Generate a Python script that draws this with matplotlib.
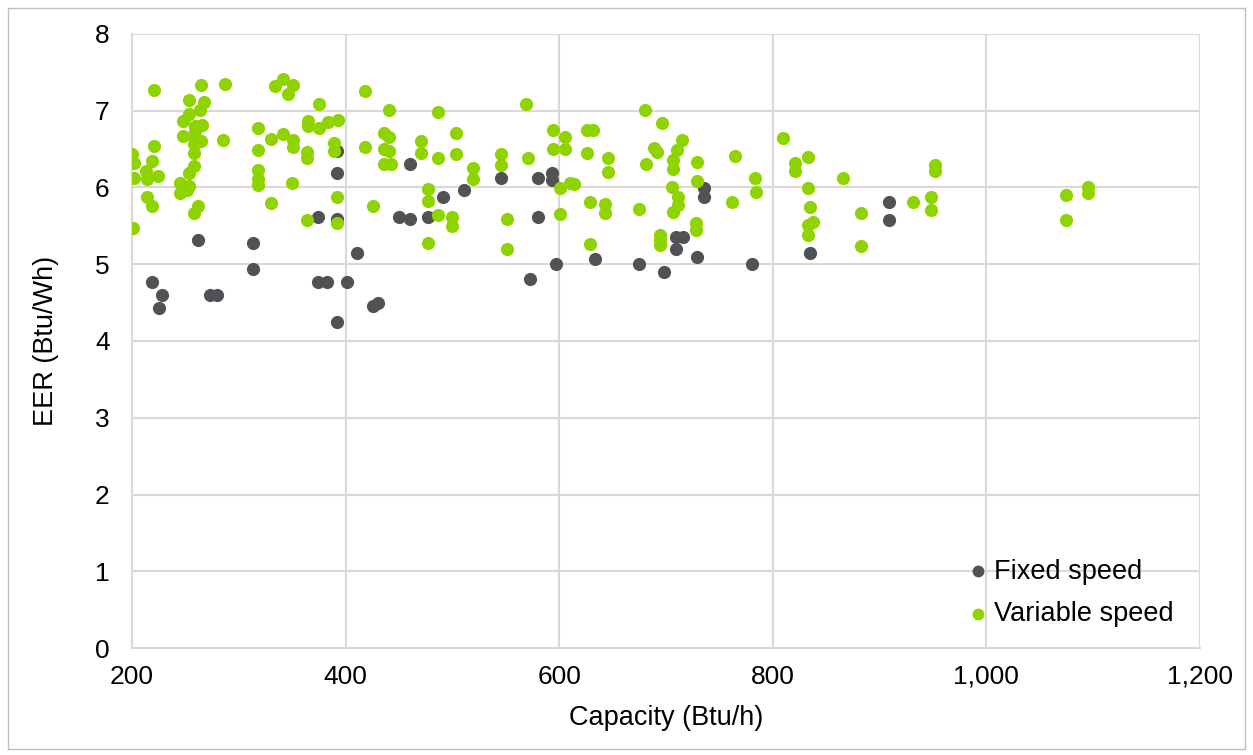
import matplotlib.pyplot as plt
import matplotlib
from matplotlib.patches import Rectangle
from matplotlib.ticker import FuncFormatter

matplotlib.rcParams["font.family"] = ["Liberation Sans", "DejaVu Sans"]

# Fixed speed units: capacity (Btu/h) and EER (Btu/Wh)
fixed_cap = [219, 225, 228, 262, 273, 280, 313, 313, 374, 374, 383, 392, 392, 392,
             392, 401, 411, 426, 430, 450, 460, 460, 477, 491, 511, 546, 573, 580,
             580, 593, 593, 597, 634, 675, 698, 709, 716, 709, 729, 736, 736, 781,
             835, 909, 909]
fixed_eer = [4.77, 4.43, 4.60, 5.31, 4.60, 4.60, 5.28, 4.94, 5.61, 4.77, 4.77, 6.48,
             6.19, 5.59, 4.25, 4.77, 5.15, 4.45, 4.50, 5.61, 6.30, 5.59, 5.61, 5.87,
             5.97, 6.12, 4.81, 6.12, 5.61, 6.19, 6.10, 5.00, 5.07, 5.00, 4.90, 5.35,
             5.35, 5.20, 5.10, 5.99, 5.88, 5.00, 5.14, 5.81, 5.58]

# Variable speed units
var_cap = [201, 200, 202, 202, 213, 214, 214, 219, 219, 221, 221, 224, 245, 245,
           248, 248, 253, 252, 253, 253, 253, 259, 258, 259, 258, 258, 258, 262,
           259, 265, 265, 266, 267, 264, 285, 287, 318, 318, 318, 318, 318, 330,
           330, 334, 341, 341, 346, 350, 351, 351, 351, 364, 364, 364, 365, 365,
           375, 375, 384, 389, 389, 392, 392, 393, 418, 418, 426, 436, 436, 436,
           441, 441, 441, 443, 471, 471, 477, 477, 477, 487, 487, 487, 500, 500,
           503, 503, 519, 519, 546, 546, 551, 551, 569, 571, 594, 594, 601, 601,
           605, 605, 610, 614, 626, 632, 626, 629, 629, 643, 643, 646, 646, 675,
           680, 681, 689, 692, 694, 694, 694, 696, 706, 707, 707, 707, 710, 711,
           711, 715, 728, 728, 729, 729, 762, 765, 783, 784, 810, 821, 821, 833,
           833, 833, 833, 835, 838, 866, 883, 883, 931, 948, 948, 952, 952, 1075,
           1075, 1095, 1095]
var_eer = [5.47, 6.44, 6.32, 6.13, 6.21, 6.11, 5.87, 6.35, 5.76, 7.27, 6.54, 6.15,
           6.06, 5.93, 6.87, 6.67, 6.02, 5.97, 7.14, 6.96, 6.19, 6.80, 6.45, 6.65,
           6.28, 6.57, 5.67, 5.76, 6.74, 7.33, 6.61, 6.81, 7.11, 7.01, 6.62, 7.35,
           6.78, 6.49, 6.23, 6.11, 6.03, 6.63, 5.80, 7.32, 7.41, 6.70, 7.22, 6.06,
           7.33, 6.62, 6.53, 6.46, 6.39, 5.57, 6.87, 6.80, 7.09, 6.78, 6.85, 6.58,
           6.48, 5.87, 5.54, 6.88, 7.26, 6.53, 5.76, 6.71, 6.50, 6.31, 7.01, 6.66,
           6.48, 6.31, 6.61, 6.45, 5.98, 5.83, 5.28, 6.98, 6.38, 5.64, 5.62, 5.50,
           6.71, 6.44, 6.25, 6.11, 6.44, 6.29, 5.59, 5.20, 7.09, 6.38, 6.75, 6.50,
           5.99, 5.66, 6.66, 6.50, 6.06, 6.05, 6.75, 6.75, 6.45, 5.81, 5.27, 5.79,
           5.67, 6.38, 6.20, 5.72, 7.01, 6.31, 6.52, 6.46, 5.38, 5.32, 5.25, 6.84,
           6.00, 6.36, 6.24, 5.68, 6.49, 5.87, 5.77, 6.62, 5.54, 5.44, 6.33, 6.09,
           5.81, 6.41, 6.12, 5.94, 6.65, 6.32, 6.22, 6.40, 5.99, 5.51, 5.38, 5.75,
           5.55, 6.12, 5.67, 5.24, 5.81, 5.87, 5.71, 6.29, 6.22, 5.90, 5.57, 6.00,
           5.93]

x_ticks = [200, 400, 600, 800, 1000, 1200]
y_ticks = [0, 1, 2, 3, 4, 5, 6, 7, 8]

fig = plt.figure(figsize=(12.53, 7.55), dpi=100)
ax = fig.add_axes([0.1053, 0.1417, 0.8524, 0.8133])

grid_color = "#d9d9d9"
ax.scatter(fixed_cap, fixed_eer, s=90, color="#505256", linewidths=0,
           label="Fixed speed", zorder=3)
ax.scatter(var_cap, var_eer, s=90, color="#8fd400", linewidths=0,
           label="Variable speed", zorder=4)

ax.set_xlim(200, 1200)
ax.set_ylim(0, 8)
ax.set_xticks(x_ticks)
ax.set_yticks(y_ticks)
ax.xaxis.set_major_formatter(FuncFormatter(lambda v, p: f"{int(v):,}"))
ax.tick_params(axis="both", length=0, labelsize=19, colors="#000000")
ax.tick_params(axis="x", pad=12)
ax.tick_params(axis="y", pad=16)
ax.grid(True, color=grid_color, linewidth=1.5)
ax.set_axisbelow(True)
for side in ["top", "right"]:
    ax.spines[side].set_visible(False)
for side in ["left", "bottom"]:
    ax.spines[side].set_color(grid_color)
    ax.spines[side].set_linewidth(1.5)

ax.set_xlabel("Capacity (Btu/h)", fontsize=19.5, labelpad=12)
ax.set_ylabel("EER (Btu/Wh)", fontsize=19.5, labelpad=26)

ax.legend(loc="lower right", frameon=False, fontsize=19.5, markerscale=0.9,
          handlelength=1.0, handletextpad=0.1, labelspacing=0.62,
          bbox_to_anchor=(0.998, -0.006))

# thin frame around the whole chart
fig.patches.append(Rectangle((0.006, 0.008), 0.988, 0.981, transform=fig.transFigure,
                             fill=False, edgecolor="#bfbfbf", linewidth=1))

fig.savefig("out.png", dpi=100)
